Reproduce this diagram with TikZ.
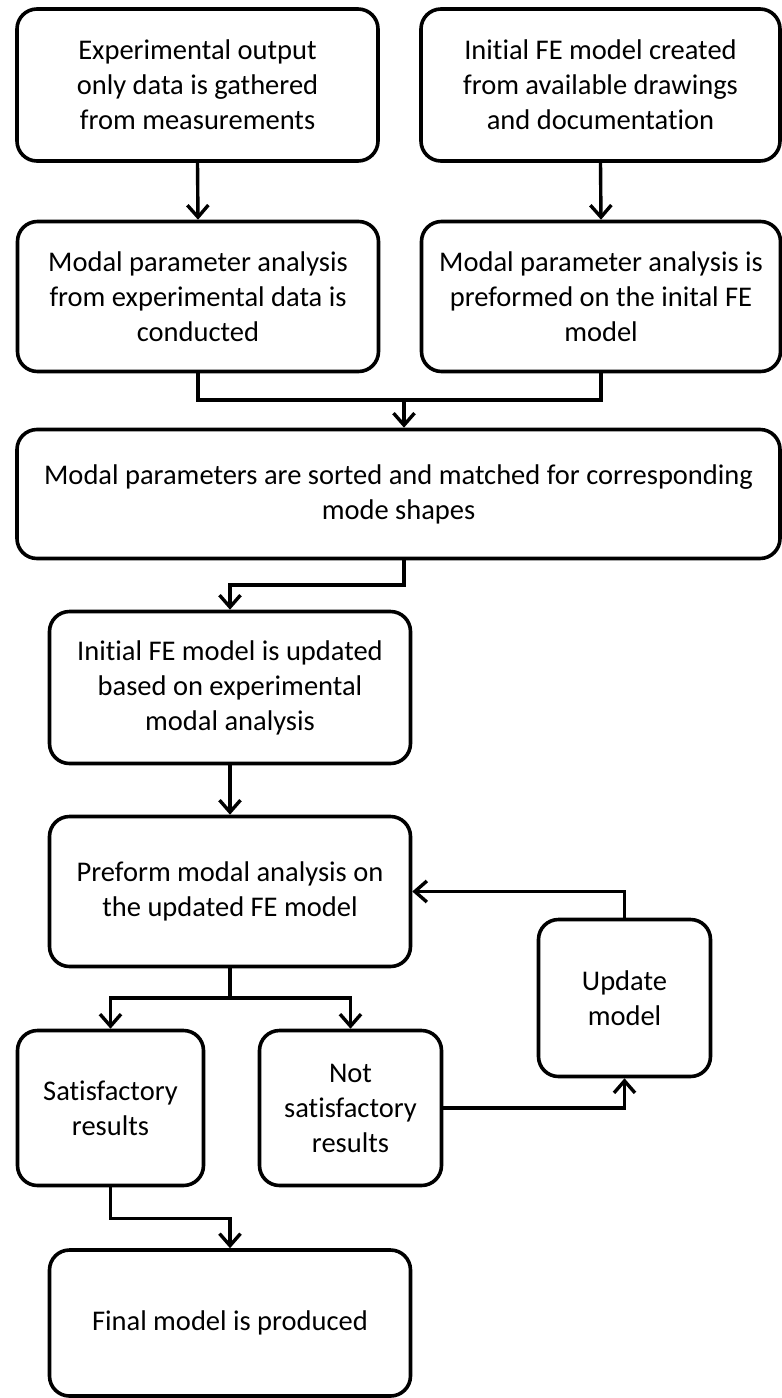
\documentclass[tikz,border=0pt]{standalone}
\usepackage{fontspec}
\setmainfont{Carlito}[Ligatures=NoCommon]
\usetikzlibrary{arrows.meta}
\tikzset{
  box/.style={draw=black, line width=3.6pt, rounded corners=20pt, fill=white,
    inner sep=0pt, align=center, font=\fontsize{28.5}{35}\selectfont},
  arr/.style={draw=black, line width=3.4pt, -{Straight Barb[length=12pt,width=21pt]}},
  ln/.style={draw=black, line width=3.4pt}
}
\begin{document}
\begin{tikzpicture}[x=1pt,y=-1pt]
\useasboundingbox (0,0) rectangle (782,1398);
\node[box, minimum width=361pt, minimum height=152pt] (b1) at (197.5,85)
  {Experimental output\\only data is gathered\\from measurements};
\node[box, minimum width=359pt, minimum height=152pt] (b2) at (600.5,85)
  {Initial FE model created\\from available drawings\\and documentation};
\node[box, minimum width=361pt, minimum height=150pt] (b3) at (198,296.5)
  {Modal parameter analysis\\from experimental data is\\conducted};
\node[box, minimum width=359pt, minimum height=150pt] (b4) at (601,296.5)
  {Modal parameter analysis is\\preformed on the inital FE\\model};
\node[box, minimum width=763pt, minimum height=129pt] (b5) at (398.5,494)
  {Modal parameters are sorted and matched for corresponding\\mode shapes};
\node[box, minimum width=361pt, minimum height=152pt] (b6) at (230,687.5)
  {Initial FE model is updated\\based on experimental\\modal analysis};
\node[box, minimum width=361pt, minimum height=150pt] (b7) at (230,891.5)
  {Preform modal analysis on\\the updated FE model};
\node[box, minimum width=172pt, minimum height=157pt] (b8) at (624.5,998)
  {Update\\model};
\node[box, minimum width=186pt, minimum height=155pt] (b9) at (110.5,1108)
  {Satisfactory\\results};
\node[box, minimum width=182pt, minimum height=155pt] (b10) at (350.5,1108)
  {Not\\satisfactory\\results};
\node[box, minimum width=361pt, minimum height=146pt] (b11) at (230,1323)
  {Final model is produced};

\coordinate (j1) at (404,400);
\coordinate (j2) at (404,585);
\coordinate (j3) at (230,998);

\draw[arr] (b1.south) -- (b3.north);
\draw[arr] (b2.south) -- (b4.north);
\draw[ln] (b3.south) |- (j1) -| (b4.south);
\draw[arr] (j1) -- (j1 |- b5.north);
\draw[arr] (j1 |- b5.south) -- (j2) -| (b6.north);
\draw[arr] (b6.south) -- (b7.north);
\draw[ln] (b7.south) -- (j3);
\draw[arr] (j3) -| (b9.north);
\draw[arr] (j3) -| (b10.north);
\draw[arr] (b10.east) -| (b8.south);
\draw[arr] (b8.north) |- (b7.east);
\draw[arr] (b9.south) -- ++(0,31) -| (b11.north);
\end{tikzpicture}
\end{document}
